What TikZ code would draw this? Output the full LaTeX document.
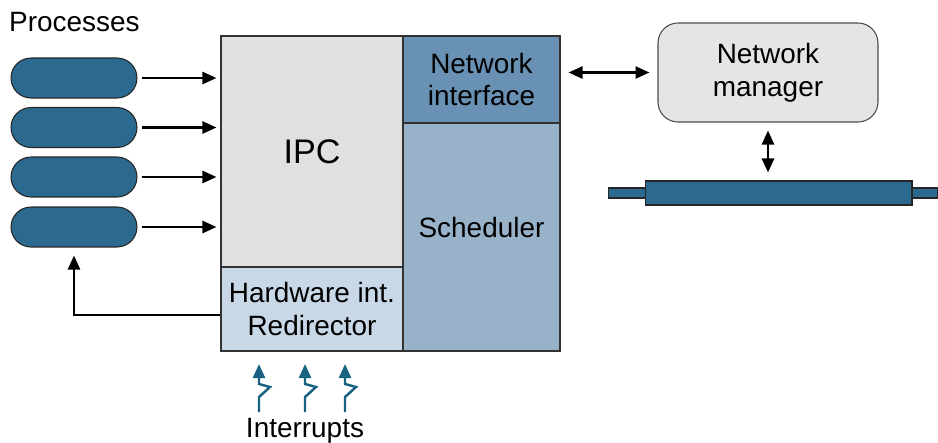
\documentclass[tikz,border=0pt]{standalone}
\usepackage{fontspec}
\setmainfont{Liberation Sans}
\usetikzlibrary{positioning, shapes.misc, arrows.meta}
\definecolor{procblue}{HTML}{2B6A8E}
\definecolor{intblue}{HTML}{1A6282}
\definecolor{ipcgray}{HTML}{E0E0E0}
\definecolor{hwblue}{HTML}{C9D8E6}
\definecolor{niblue}{HTML}{6891B3}
\definecolor{schblue}{HTML}{98B2CA}
\definecolor{mgrgray}{HTML}{E5E5E5}
\begin{document}
\begin{tikzpicture}[x=0.02cm, y=-0.02cm,
      >={Triangle[length=2.8mm, width=2.4mm]},
      font=\fontsize{15.9}{18.6}\selectfont,
      block/.style={rectangle, draw=black!80, line width=0.6pt, align=center, inner sep=0pt},
      proc/.style={rounded rectangle, draw=black!85, line width=0.6pt, fill=procblue,
        minimum width=2.52cm, minimum height=0.8cm, inner sep=0pt},
      mgr/.style={rectangle, rounded corners=0.4cm, draw=black!70, line width=0.6pt,
        fill=mgrgray, align=center, minimum width=4.4cm, minimum height=1.98cm},
      bus/.style={rectangle, draw=black!85, line width=0.6pt, fill=procblue, inner sep=0pt},
      link/.style={->, line width=1.4pt, shorten <=0.08cm, shorten >=0.08cm},
      intr/.style={->, line width=1.4pt, draw=intblue}]
  \useasboundingbox (0,0) rectangle (938,443);
  % processes
  \node[anchor=west] (procs) at (3,22) {Processes};
  \node[proc] (p1) at (74,78) {};
  \node[proc] (p2) at (74,127.5) {};
  \node[proc] (p3) at (74,177) {};
  \node[proc] (p4) at (74,227) {};
  % kernel blocks
  \node[block, fill=ipcgray, minimum width=3.64cm, minimum height=4.62cm,
    font=\fontsize{19.4}{22}\selectfont] (ipc) at (312,151.5) {IPC};
  \node[block, fill=hwblue, minimum width=3.64cm, minimum height=1.68cm] (hw) at (312,309) {Hardware int.\\Redirector};
  \node[block, fill=niblue, minimum width=3.14cm, minimum height=1.74cm] (ni) at (481.5,79.5) {Network\\interface};
  \node[block, fill=schblue, minimum width=3.14cm, minimum height=4.56cm,
    label={[yshift=0.18cm]center:Scheduler}] (sch) at (481.5,237) {};
  % network side
  \node[mgr] (nm) at (768,72.5) {Network\\manager};
  \node[bus, minimum width=6.6cm, minimum height=0.2cm] (wire) at (773,193) {};
  \node[bus, minimum width=5.34cm, minimum height=0.48cm] (cable) at (778.5,193) {};
  % arrows
  \foreach \i in {1,...,4}
    \path[link] (p\i.east) edge (p\i -| ipc.west);
  \draw[link, shorten <=0pt, shorten >=0.16cm] ([yshift=-0.12cm]hw.west) -| (p4.south);
  \path[link, <->, shorten <=0.16cm, shorten >=0.16cm] (ni.east |- nm.west) edge (nm.west);
  \path[link, <->, shorten <=0.16cm, shorten >=0.16cm] (nm.south) edge (nm.south |- cable.north);
  % interrupts
  \foreach \x in {259,305,345}
    \draw[intr] (\x,412) -- (\x,397) -- (\x+11,387) -- (\x,384) -- (\x,364);
  \node (ints) at (305,431) {Interrupts};
\end{tikzpicture}
\end{document}
